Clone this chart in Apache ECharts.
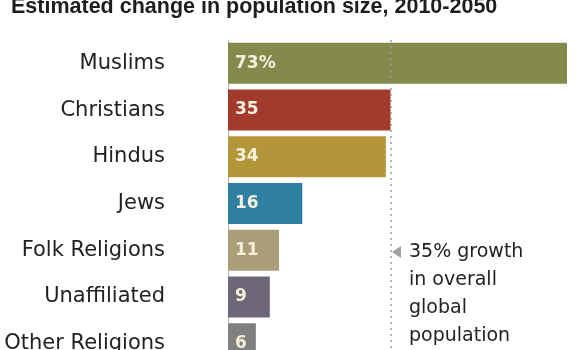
<!DOCTYPE html>
<html><head><meta charset="utf-8">
<script src="https://cdn.jsdelivr.net/npm/echarts@6/dist/echarts.min.js"></script>
<style>html,body{margin:0;padding:0;background:#fff}#c{width:580px;height:350px}</style>
</head><body><div id="c"></div>
<script>
const categories = ["Muslims","Christians","Hindus","Jews","Folk Religions","Unaffiliated","Other Religions"];
const values = [73,35,34,16,11,9,6];
const valueLabels = ["73%","35","34","16","11","9","6"];
const colors = ["#838a4c","#a23b2b","#b3953a","#2f7fa3","#a99e78","#6d6779","#808080"];
const overallGrowth = 35;
const titleText = "Estimated change in population size, 2010-2050";
const noteLines = ["35% growth","in overall","global","population"];

const chart = echarts.init(document.getElementById('c'));
const font = "DejaVu Sans";
chart.setOption({
  backgroundColor: '#fff',
  animation: false,
  title: {
    text: titleText, left: 6, top: -9,
    textStyle: {fontFamily: 'Liberation Sans', fontSize: 21.5, fontWeight: 'bold', color: '#1e1e1e'}
  },
  grid: {left: 228, top: 40, width: 339, height: 327, containLabel: false, outerBoundsMode: 'none'},
  xAxis: {type: 'value', min: 0, max: 73, show: false},
  yAxis: {
    type: 'category', data: categories, inverse: true,
    axisLine: {show: true, lineStyle: {color: '#b5b5b5', width: 1}},
    axisTick: {show: false},
    axisLabel: {margin: 63, fontFamily: font, fontSize: 21, color: '#222'}
  },
  series: [{
    type: 'bar', barWidth: 41,
    data: values.map((v, i) => ({value: v, itemStyle: {color: colors[i]}})),
    label: {
      show: true, position: 'insideLeft', offset: [2, 0],
      fontFamily: font, fontSize: 17, fontWeight: 'bold', color: '#f4efda',
      formatter: p => valueLabels[p.dataIndex]
    },
    markLine: {
      symbol: 'none', silent: true,
      lineStyle: {type: [2, 4], color: '#9a9a9a', width: 1.5},
      label: {show: false},
      data: [{xAxis: overallGrowth}]
    }
  }],
  graphic: [
    {type: 'polygon', shape: {points: [[392, 252], [401, 246], [401, 258]]}, style: {fill: '#a0a0a0'}},
    {type: 'text', left: 409, top: 238,
     style: {text: noteLines.join('\n'), font: '19px "DejaVu Sans"', fill: '#222', lineHeight: 28}}
  ]
});
</script></body></html>
